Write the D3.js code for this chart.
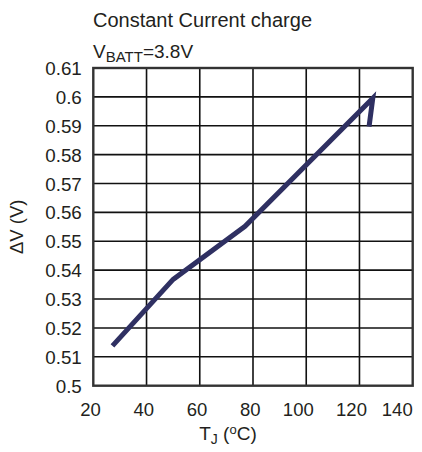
<!DOCTYPE html>
<html>
<head>
<meta charset="utf-8">
<script src="https://cdn.jsdelivr.net/npm/d3@7"></script>
<style>
  html, body { margin: 0; padding: 0; background: #fff; }
  svg { display: block; font-family: "Liberation Sans", Arial, sans-serif; }
</style>
</head>
<body>
<svg id="chart" width="422" height="452"></svg>
<script>
// ---- data ----
const tempC = [27.2, 50, 77, 125, 123.6];
const deltaV = [0.5138, 0.5368, 0.5552, 0.5995, 0.5897];
const xTicks = [20, 40, 60, 80, 100, 120, 140];
const xTickLabels = ["20", "40", "60", "80", "100", "120", "140"];
const yTicks = [0.5, 0.51, 0.52, 0.53, 0.54, 0.55, 0.56, 0.57, 0.58, 0.59, 0.6, 0.61];
const yTickLabels = ["0.5", "0.51", "0.52", "0.53", "0.54", "0.55", "0.56", "0.57", "0.58", "0.59", "0.6", "0.61"];

const svg = d3.select("#chart");
const pLeft = 93.3, pRight = 412.7, pTop = 68, pBottom = 385.7;
const x = d3.scaleLinear().domain([20, 140]).range([pLeft, pRight]);
const y = d3.scaleLinear().domain([0.5, 0.61]).range([pBottom, pTop]);
const textColor = "#231f20";

// grid
const g = svg.append("g");
g.selectAll("line.v").data(xTicks.slice(1, -1)).enter().append("line")
  .attr("x1", d => x(d)).attr("x2", d => x(d))
  .attr("y1", pTop).attr("y2", pBottom)
  .attr("stroke", "#111").attr("stroke-width", 1.6);
g.selectAll("line.h").data(yTicks.slice(1, -1)).enter().append("line")
  .attr("x1", pLeft).attr("x2", pRight)
  .attr("y1", d => y(d)).attr("y2", d => y(d))
  .attr("stroke", "#111").attr("stroke-width", 1.6);
g.append("rect")
  .attr("x", pLeft).attr("y", pTop)
  .attr("width", pRight - pLeft).attr("height", pBottom - pTop)
  .attr("fill", "none").attr("stroke", "#333").attr("stroke-width", 2.4);

// y tick labels
svg.append("g").selectAll("text").data(yTicks).enter().append("text")
  .attr("x", pLeft - 11.5)
  .attr("y", d => y(d) + 7)
  .attr("text-anchor", "end")
  .attr("font-size", 18.8)
  .attr("fill", textColor)
  .text((d, i) => yTickLabels[i]);

// x tick labels
svg.append("g").selectAll("text").data(xTicks).enter().append("text")
  .attr("x", d => x(d))
  .attr("dx", (d, i) => i === xTicks.length - 1 ? 0 : 7.5)
  .attr("y", 416)
  .attr("text-anchor", "end")
  .attr("font-size", 18.5)
  .attr("fill", textColor)
  .text((d, i) => xTickLabels[i]);

// data line
const line = d3.line().x(d => x(d[0])).y(d => y(d[1]));
svg.append("path")
  .datum(tempC.map((t, i) => [t, deltaV[i]]))
  .attr("d", line)
  .attr("fill", "none")
  .attr("stroke", "#2f3062")
  .attr("stroke-width", 5)
  .attr("stroke-linejoin", "miter")
  .attr("stroke-linecap", "butt");

// subtitle texts
svg.append("text")
  .attr("x", 93).attr("y", 27)
  .attr("font-size", 20)
  .attr("fill", textColor)
  .text("Constant Current charge");

const vb = svg.append("text")
  .attr("x", 93).attr("y", 58)
  .attr("font-size", 19)
  .attr("fill", textColor);
vb.append("tspan").text("V");
vb.append("tspan").attr("font-size", 15).attr("dy", 4).text("BATT");
vb.append("tspan").attr("dy", -4).text("=3.8V");

// y axis title
svg.append("text")
  .attr("transform", `translate(23, ${(pTop + pBottom) / 2}) rotate(-90)`)
  .attr("text-anchor", "middle")
  .attr("font-size", 18.5)
  .attr("fill", textColor)
  .text("ΔV (V)");

// x axis title
const xt = svg.append("text")
  .attr("x", 228).attr("y", 440)
  .attr("text-anchor", "middle")
  .attr("font-size", 19)
  .attr("fill", textColor);
xt.append("tspan").text("T");
xt.append("tspan").attr("font-size", 14).attr("dy", 4).text("J");
xt.append("tspan").attr("dy", -4).text(" (");
xt.append("tspan").attr("font-size", 13).attr("dy", -6).text("o");
xt.append("tspan").attr("dy", 6).text("C)");
</script>
</body>
</html>
